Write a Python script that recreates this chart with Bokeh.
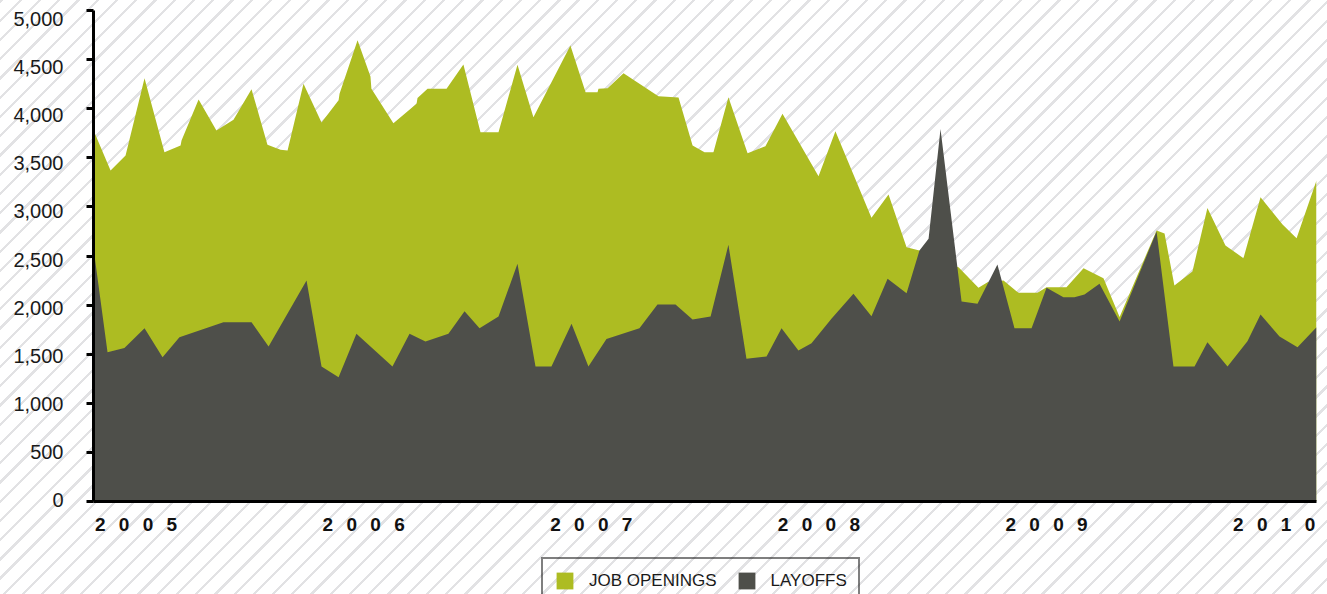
from bokeh.plotting import figure
from bokeh.layouts import column
from bokeh.models import (Range1d, LinearAxis, FixedTicker, NumeralTickFormatter,
                          Legend, LegendItem)
from bokeh.core.properties import value
from bokeh.embed import file_html
from bokeh.resources import INLINE

# ---- data (x = months since January 2005) ----
open_t = [0.00, 0.90, 1.69, 2.69, 3.74, 4.59, 4.64, 5.54, 6.48, 7.38, 8.33, 9.17,
          9.86, 10.23, 11.07, 12.02, 12.92, 12.97, 13.92, 14.60, 14.65, 15.81, 17.03,
          17.08, 17.61, 18.61, 19.50, 20.40, 21.35, 22.35, 23.19, 25.14, 25.94, 26.57,
          26.62, 27.10, 27.94, 29.78, 30.84, 31.58, 32.21, 32.68, 33.47, 34.48, 35.42,
          36.32, 38.22, 39.11, 41.01, 41.91, 42.86, 43.54, 44.65, 45.60, 46.65, 47.13,
          47.97, 48.76, 49.76, 50.24, 51.29, 52.19, 53.24, 54.09, 56.04, 56.46, 56.98,
          57.93, 58.72, 59.67, 60.62, 61.52, 62.68, 63.42, 64.47]
open_v = [3780, 3371, 3523, 4311, 3557, 3625, 3676, 4094, 3778, 3887, 4199, 3632,
          3581, 3574, 4253, 3859, 4087, 4152, 4698, 4328, 4202, 3852, 4050,
          4108, 4202, 4202, 4450, 3761, 3761, 4447, 3913, 4644, 4168, 4168,
          4202, 4209, 4362, 4128, 4114, 3625, 3557, 3557, 4117, 3547, 3618,
          3948, 3313, 3771, 2889, 3126, 2590, 2556, 2450, 2386, 2176, 2233,
          2250, 2125, 2125, 2183, 2183, 2376, 2274, 1880, 2760, 2729, 2200,
          2342, 2990, 2607, 2478, 3099, 2821, 2681, 3269]

lay_t = [0.00, 0.74, 1.63, 2.69, 3.64, 4.53, 6.85, 8.33, 9.23, 11.23, 12.02, 12.92,
         13.86, 15.76, 16.66, 17.50, 18.71, 19.56, 20.35, 21.35, 22.35, 23.30, 24.14,
         25.20, 26.09, 27.04, 28.78, 29.73, 30.68, 31.58, 32.53, 33.47, 34.42, 35.48,
         36.27, 37.16, 37.85, 38.90, 40.06, 41.01, 41.86, 42.86, 43.54, 44.02, 44.65,
         45.76, 46.60, 47.65, 48.55, 49.45, 50.24, 51.13, 51.71, 52.24, 53.03, 54.09,
         56.04, 56.93, 58.04, 58.72, 59.78, 60.83, 61.52, 62.52, 63.47, 64.47]
lay_v = [2580, 1521, 1562, 1765, 1470, 1673, 1826, 1826, 1578, 2250, 1375, 1266,
         1708, 1375, 1708, 1629, 1708, 1938, 1765, 1884, 2420, 1375, 1375,
         1809, 1375, 1656, 1765, 2006, 2006, 1853, 1884, 2614, 1453, 1477,
         1765, 1538, 1612, 1860, 2115, 1887, 2268, 2121, 2556, 2675, 3794,
         2037, 2013, 2413, 1765, 1765, 2176, 2081, 2081, 2108, 2217, 1833,
         2749, 1375, 1375, 1622, 1375, 1632, 1904, 1680, 1571, 1775]

years = ["2005", "2006", "2007", "2008", "2009", "2010"]
y_ticks = [0, 500, 1000, 1500, 2000, 2500, 3000, 3500, 4000, 4500, 5000]
series_names = ["JOB OPENINGS", "LAYOFFS"]

GREEN = "#adbc22"
DARK = "#4e4f4a"
FONT = "Liberation Sans"
STRIPES = ("repeating-linear-gradient(135deg, #e2e2e4 0px, #e2e2e4 2.3px, "
           "#ffffff 2.3px, #ffffff 13.6px)")

# ---------------- main chart ----------------
p = figure(width=1327, height=556, output_backend="svg", toolbar_location=None,
           x_range=Range1d(0, 64.47), y_range=Range1d(0, 5000),
           y_axis_location=None,
           min_border_left=93, min_border_right=11, min_border_top=10, min_border_bottom=55)
p.background_fill_color = None
p.border_fill_color = None
p.outline_line_color = None
p.grid.visible = False

r_open = p.varea(x=open_t, y1=0, y2=open_v, fill_color=GREEN)
r_lay = p.varea(x=lay_t, y1=0, y2=lay_v, fill_color=DARK)

# y axis: line + ticks
ax_ticks = LinearAxis(ticker=FixedTicker(ticks=y_ticks),
                      axis_line_width=3, axis_line_color="black",
                      major_tick_out=7, major_tick_in=0, major_tick_line_width=3,
                      major_tick_line_color="black", minor_tick_line_color=None,
                      major_label_overrides={t: "" for t in y_ticks},
                      major_label_standoff=0)
# y axis: labels (slightly tighter spacing, as in the original)
p.extra_y_ranges = {"lab": Range1d(-10.4, 5086.2)}
ax_lab = LinearAxis(y_range_name="lab", ticker=FixedTicker(ticks=y_ticks),
                    formatter=NumeralTickFormatter(format="0,0"),
                    axis_line_color=None, major_tick_line_color=None,
                    minor_tick_line_color=None, major_tick_out=0, major_tick_in=0,
                    major_label_standoff=23, major_label_text_font=FONT,
                    major_label_text_font_size="20px", major_label_text_color="#1a1a1a")
p.add_layout(ax_ticks, "left")
p.add_layout(ax_lab, "left")

# x axis: spaced year labels
label_off = 2.24
xticks = [12 * i + label_off for i in range(len(years))]
xa = p.xaxis[0]
xa.ticker = FixedTicker(ticks=xticks)
xa.major_label_overrides = {t: "\u2002\u2009".join(list(y)) for t, y in zip(xticks, years)}
xa.axis_line_width = 3
xa.axis_line_color = "black"
xa.major_tick_line_color = None
xa.minor_tick_line_color = None
xa.major_tick_out = 0
xa.major_tick_in = 0
xa.major_label_standoff = 12
xa.major_label_text_font = FONT
xa.major_label_text_font_style = "bold"
xa.major_label_text_font_size = "19px"
xa.major_label_text_color = "#111111"

# ---------------- legend strip ----------------
# same series, drawn outside this strip's visible x range: only their legend swatches show
pl = figure(width=1327, height=38, output_backend="svg", toolbar_location=None,
            x_range=Range1d(-20, -10), y_range=Range1d(0, 1),
            x_axis_location=None, y_axis_location=None, min_border=0)
pl.background_fill_color = None
pl.border_fill_color = None
pl.outline_line_color = None
pl.grid.visible = False
l_open = pl.varea(x=open_t, y1=0, y2=open_v, fill_color=GREEN)
l_lay = pl.varea(x=lay_t, y1=0, y2=lay_v, fill_color=DARK)
legend = Legend(items=[LegendItem(label=value(series_names[0]), renderers=[l_open]),
                       LegendItem(label=value(series_names[1]), renderers=[l_lay])],
                orientation="horizontal", location=(448, -10), margin=0,
                border_line_color="black", border_line_width=2, background_fill_alpha=0,
                padding=11, spacing=19, label_standoff=14, glyph_width=21, glyph_height=21,
                label_text_font=FONT, label_text_font_size="17px",
                label_text_color="#1a1a1a")
pl.add_layout(legend)

page = column(p, pl, spacing=0)
page.styles = {"background-image": STRIPES}

open("out.html", "w").write(file_html(page, INLINE))
